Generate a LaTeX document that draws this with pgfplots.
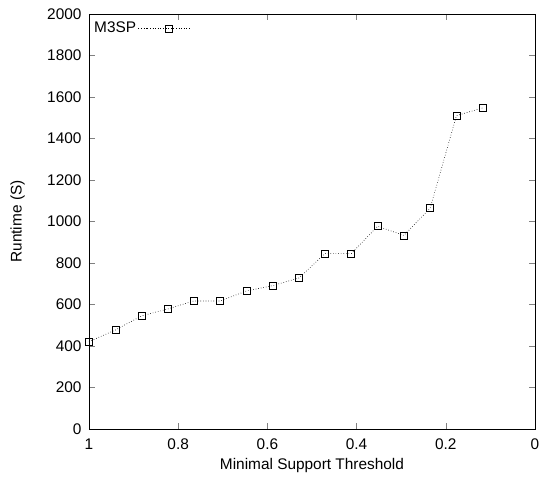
\documentclass[border=0pt]{standalone}
\usepackage{fontspec}
\setmainfont{Liberation Sans}
\usepackage{pgfplots}
\pgfplotsset{compat=1.18}
\begin{document}
\begin{tikzpicture}[font=\fontsize{15.4}{18}\selectfont]
\useasboundingbox (-89pt,-52pt) rectangle (453pt,429pt);
\begin{axis}[
  scale only axis,
  width=446pt, height=415pt,
  x dir=reverse,
  xmin=0, xmax=1, ymin=0, ymax=2000,
  xtick={0,0.2,0.4,0.6,0.8,1},
  ytick={0,200,...,2000},
  tick align=inside,
  major tick length=6pt,
  yticklabel style={xshift=-4pt},
  xticklabel style={yshift=-6pt},
  /pgf/number format/assume math mode=true,
  /pgf/number format/1000 sep={},
  xlabel={Minimal Support Threshold},
  ylabel={Runtime (S)},
  x label style={at={(axis description cs:0.5,-0.087)},anchor=center},
  y label style={at={(axis description cs:-0.16,0.5)},anchor=center},
  legend style={draw=none, fill=none, at={(0.0,1)}, anchor=north west, yshift=-4pt,
    font=\fontsize{15.4}{18}\selectfont},
  legend plot pos=right,
  legend image code/.code={\path (0pt,0pt) -- (9pt,0pt);\draw[mark repeat=2,mark phase=2,#1] plot coordinates {(9pt,0pt) (30.5pt,0pt) (52pt,0pt)};},
]
\addplot[black, dotted, line width=0.6pt, mark=square, mark size=3.5pt, mark options={solid, line width=0.6pt}] coordinates {
(1.000,421) (0.941,477) (0.882,545) (0.824,578) (0.765,617) (0.706,617)
(0.647,665) (0.588,691) (0.529,728) (0.471,845) (0.412,845) (0.353,977)
(0.294,933) (0.235,1064) (0.176,1510) (0.118,1547)
};
\addlegendentry{M3SP}
\end{axis}
\end{tikzpicture}
\end{document}
